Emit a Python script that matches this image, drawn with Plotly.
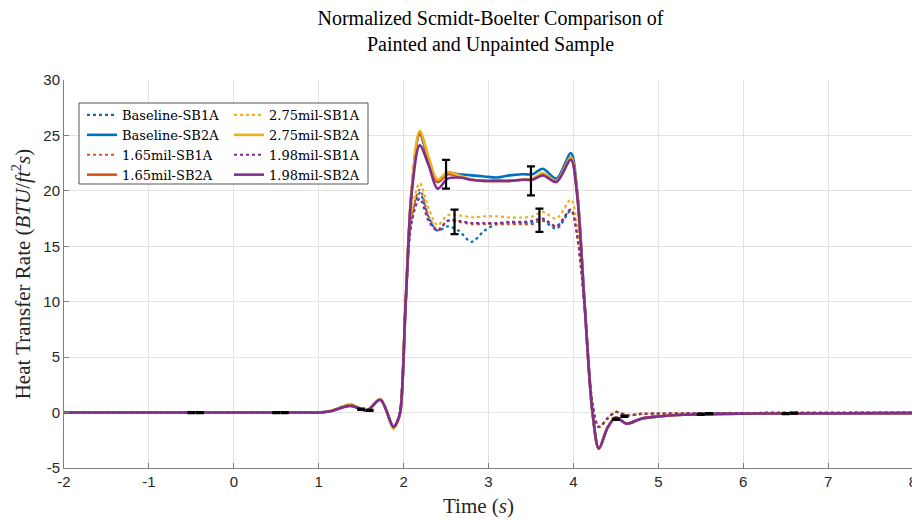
import plotly.graph_objects as go

# ---------------- data ----------------
t = [-2.0, 0.9, 1.0, 1.15, 1.37, 1.57, 1.725, 1.88, 1.92, 1.96, 2.025, 2.095, 2.19,
     2.30, 2.40, 2.52, 2.65, 2.80, 2.95, 3.10, 3.25, 3.40, 3.52, 3.64, 3.80, 3.97,
     4.04, 4.13, 4.225, 4.30, 4.40, 4.50, 4.63, 4.80, 5.00, 5.30, 5.70, 6.50, 8.00]

pre = [0.0, 0.0, 0.0, 0.15]   # flat start shared by every series

baseline_sb1a = pre + [0.62, 0.20, 1.15, -1.30, -0.90, 0.2, 10.0, 17.3, 19.8,
                       17.5, 16.4, 16.8, 16.4, 15.4, 16.4, 17.0, 17.1, 17.1, 17.1, 17.3, 16.6, 18.2,
                       16.3, 9.7, 0.8, -1.30, -0.55, 0.05, -0.25, -0.12, -0.10, -0.06, -0.05, -0.03, 0.0]
baseline_sb2a = pre + [0.60, 0.22, 1.15, -1.30, -0.90, 0.0, 10.0, 20.0, 25.1,
                       22.6, 20.8, 21.6, 21.5, 21.4, 21.3, 21.2, 21.4, 21.5, 21.5, 22.0, 21.1, 23.4,
                       20.3, 10.0, 0.0, -3.25, -1.40, -0.45, -1.00, -0.55, -0.35, -0.20, -0.12, -0.08, -0.05]
mil165_sb1a = pre + [0.72, 0.18, 1.20, -1.35, -0.95, 0.2, 10.0, 17.6, 20.1,
                     17.6, 16.5, 17.3, 17.2, 17.0, 17.0, 17.0, 17.0, 17.0, 17.0, 17.4, 16.8, 18.3,
                     16.3, 9.7, 0.8, -1.30, -0.55, 0.05, -0.25, -0.12, -0.10, -0.06, -0.05, -0.03, 0.0]
mil165_sb2a = pre + [0.70, 0.20, 1.20, -1.35, -0.95, 0.0, 10.0, 20.0, 25.2,
                     22.7, 20.8, 21.5, 21.3, 21.0, 20.9, 20.9, 20.9, 21.0, 21.1, 21.5, 20.9, 23.0,
                     20.1, 10.0, 0.0, -3.25, -1.40, -0.45, -1.00, -0.55, -0.35, -0.20, -0.12, -0.08, -0.05]
mil275_sb1a = pre + [0.75, 0.18, 1.22, -1.45, -1.00, 0.2, 10.0, 18.0, 20.7,
                     18.3, 16.9, 17.8, 17.8, 17.6, 17.7, 17.7, 17.6, 17.6, 17.7, 18.1, 17.5, 19.2,
                     17.0, 9.9, 0.9, -1.30, -0.50, 0.05, -0.22, -0.10, -0.08, -0.05, -0.04, -0.02, 0.0]
mil275_sb2a = pre + [0.72, 0.20, 1.22, -1.45, -1.00, 0.0, 10.0, 20.2, 25.4,
                     22.9, 21.0, 21.7, 21.4, 21.0, 20.9, 20.9, 20.9, 21.0, 21.1, 21.6, 20.9, 23.0,
                     20.1, 10.0, 0.0, -3.25, -1.40, -0.45, -1.00, -0.55, -0.35, -0.20, -0.12, -0.08, -0.05]
mil198_sb1a = pre + [0.65, 0.20, 1.15, -1.30, -0.90, 0.2, 10.0, 17.2, 19.3,
                     17.2, 16.4, 17.3, 17.3, 17.1, 17.1, 17.1, 17.2, 17.2, 17.3, 17.5, 16.8, 18.3,
                     16.2, 9.7, 0.8, -1.30, -0.55, 0.05, -0.25, -0.12, -0.10, -0.06, -0.05, -0.03, 0.0]
mil198_sb2a = pre + [0.62, 0.22, 1.15, -1.30, -0.90, 0.0, 10.0, 19.8, 24.1,
                     22.2, 20.2, 21.1, 21.2, 21.0, 20.9, 20.9, 20.9, 21.0, 21.0, 21.4, 20.8, 22.8,
                     19.9, 10.0, 0.0, -3.25, -1.40, -0.45, -1.00, -0.55, -0.35, -0.20, -0.12, -0.08, -0.05]

# error bars (means and half-widths)
eb_sb2a_t = [-0.5, 0.5, 1.5, 2.5, 3.5, 4.5, 5.5, 6.5]
eb_sb2a_y = [0.0, 0.0, 0.30, 21.5, 20.9, -0.60, -0.15, -0.10]
eb_sb2a_e = [0.05, 0.05, 0.05, 1.3, 1.3, 0.05, 0.05, 0.05]
eb_sb1a_t = [-0.4, 0.6, 1.6, 2.6, 3.6, 4.6, 5.6, 6.6]
eb_sb1a_y = [0.0, 0.0, 0.20, 17.2, 17.35, -0.33, -0.10, -0.05]
eb_sb1a_e = [0.05, 0.05, 0.05, 1.1, 1.05, 0.05, 0.05, 0.05]

x_ticks = [-2, -1, 0, 1, 2, 3, 4, 5, 6, 7, 8]
x_tick_labels = ["-2", "-1", "0", "1", "2", "3", "4", "5", "6", "7", "8"]
y_ticks = [-5, 0, 5, 10, 15, 20, 25, 30]
y_tick_labels = ["-5", "0", "5", "10", "15", "20", "25", "30"]

names = ["Baseline-SB1A", "Baseline-SB2A", "1.65mil-SB1A", "1.65mil-SB2A",
         "2.75mil-SB1A", "2.75mil-SB2A", "1.98mil-SB1A", "1.98mil-SB2A"]
series = [baseline_sb1a, baseline_sb2a, mil165_sb1a, mil165_sb2a,
          mil275_sb1a, mil275_sb2a, mil198_sb1a, mil198_sb2a]
colors = ["#0072BD", "#0072BD", "#D95319", "#D95319",
          "#EDB120", "#EDB120", "#7E2F8E", "#7E2F8E"]
dashes = ["dot", "solid", "dot", "solid", "dot", "solid", "dot", "solid"]
legend_ids = ["legend", "legend", "legend", "legend",
              "legend2", "legend2", "legend2", "legend2"]

SERIF = "Liberation Serif"
LEGEND_SERIF = "DejaVu Serif"
SANS = "Liberation Sans"

fig = go.Figure()
for name, ys, c, d, lg in zip(names, series, colors, dashes, legend_ids):
    fig.add_trace(go.Scatter(
        x=t, y=ys, mode="lines", name=name, legend=lg,
        line=dict(color=c, width=2.6 if d == "solid" else 2.2, dash=d,
                  shape="spline", smoothing=0.9),
    ))

for xs, ys, es in [(eb_sb2a_t, eb_sb2a_y, eb_sb2a_e), (eb_sb1a_t, eb_sb1a_y, eb_sb1a_e)]:
    fig.add_trace(go.Scatter(
        x=xs, y=ys, mode="markers", showlegend=False,
        marker=dict(size=1, color="black", opacity=0),
        error_y=dict(type="data", array=es, visible=True, color="black",
                     thickness=2.2, width=4),
    ))

# The page body has an 8px margin, so figure coords = page coords - 8.
OFF = 8
W, H = 912, 512
L, R, T, B = 64 - OFF, 913 - OFF, 80 - OFF, 468 - OFF
pw, ph = R - L, B - T

def px(xp):  # page x -> paper x
    return (xp - OFF - L) / pw

def py(yp):  # page y -> paper y
    return (B - (yp - OFF)) / ph

axis_common = dict(
    showline=True, linecolor="#808080", linewidth=1,
    ticks="inside", ticklen=5, tickcolor="#808080", tickwidth=1,
    showgrid=True, gridcolor="#e3e3e3", gridwidth=1,
    zeroline=False, mirror=False,
    ticklabelposition="outside", ticklabeloverflow="allow", automargin=False,
    tickfont=dict(family=SANS, size=15, color="#262626"),
)

fig.update_layout(
    template="none",
    width=W, height=H,
    margin=dict(l=L, r=W - R, t=T, b=H - B, autoexpand=False),
    paper_bgcolor="white", plot_bgcolor="white",
    title=dict(
        text="Normalized Scmidt-Boelter Comparison of<br>Painted and Unpainted Sample",
        xref="paper", x=px(490.5), xanchor="center",
        y=1 - (25 - OFF) / H, yanchor="middle",
        font=dict(family=SERIF, size=20, color="#000000"),
    ),
    xaxis=dict(axis_common, range=[-2, 8], tickmode="array",
               tickvals=x_ticks, ticktext=x_tick_labels),
    yaxis=dict(axis_common, range=[-5, 30], tickmode="array",
               tickvals=y_ticks, ticktext=y_tick_labels,
               title=dict(text="Heat Transfer Rate (<i>BTU</i>/<i>ft</i><sup>2</sup><i>s</i>)",
                          standoff=8,
                          font=dict(family=SERIF, size=21, color="#262626"))),
    annotations=[dict(text="Time (<i>s</i>)", xref="paper", yref="paper",
                      x=px(478), y=py(506), xanchor="center", yanchor="middle",
                      showarrow=False,
                      font=dict(family=SERIF, size=21, color="#262626"))],
    legend=dict(x=px(82), y=py(100), xanchor="left", yanchor="top",
                bgcolor="rgba(255,255,255,0)", borderwidth=0,
                font=dict(family=LEGEND_SERIF, size=13, color="#000000"),
                tracegroupgap=0, itemwidth=30),
    legend2=dict(x=px(229), y=py(100), xanchor="left", yanchor="top",
                 bgcolor="rgba(255,255,255,0)", borderwidth=0,
                 font=dict(family=LEGEND_SERIF, size=13, color="#000000"),
                 tracegroupgap=0, itemwidth=30),
    shapes=[dict(type="rect", xref="paper", yref="paper",
                 x0=px(79), x1=px(368), y0=py(184), y1=py(103),
                 line=dict(color="#555555", width=1), fillcolor="white",
                 layer="above")],
    showlegend=True,
)

fig.write_html("out.html")
